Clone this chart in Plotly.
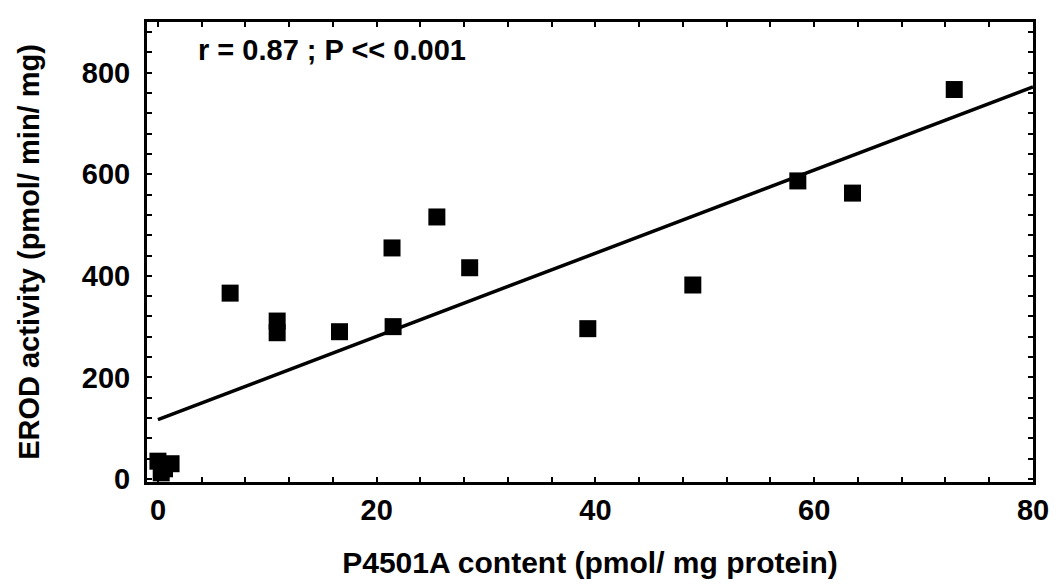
import plotly.graph_objects as go

# P4501A content (pmol/mg protein) vs EROD activity (pmol/min/mg)
p450_content = [0.0, 0.3, 1.2, 0.6, 6.6, 10.9, 10.9, 16.6, 21.4, 21.5,
                25.5, 28.5, 39.3, 48.9, 58.5, 63.5, 72.8]
erod_activity = [35, 12, 30, 20, 366, 311, 288, 290, 455, 300,
                 516, 416, 296, 382, 587, 563, 767]

# Linear regression line (intercept, slope) and its x extent
fit_intercept = 117
fit_slope = 8.19
fit_x = [0, 80]

stats_label = "r = 0.87 ; P << 0.001"
x_title = "P4501A content (pmol/ mg protein)"
y_title = "EROD activity (pmol/ min/ mg)"

FONT = "Liberation Sans, Arial, sans-serif"

fig = go.Figure()

fig.add_trace(go.Scatter(
    x=fit_x,
    y=[fit_intercept + fit_slope * v for v in fit_x],
    mode="lines",
    line=dict(color="black", width=3.5),
    hoverinfo="skip",
    showlegend=False,
))

fig.add_trace(go.Scatter(
    x=p450_content,
    y=erod_activity,
    mode="markers",
    marker=dict(symbol="square", size=17, color="black",
                line=dict(width=0)),
    showlegend=False,
))

fig.add_annotation(
    x=0.055, y=0.978, xref="paper", yref="paper",
    xanchor="left", yanchor="top",
    text="<b>" + stats_label + "</b>",
    showarrow=False,
    font=dict(family=FONT, size=29, color="black"),
)

axis_common = dict(
    showgrid=False,
    zeroline=False,
    showline=True,
    linecolor="black",
    linewidth=3,
    mirror="ticks",
    ticks="inside",
    ticklen=5,
    tickwidth=2,
    tickcolor="black",
    tickfont=dict(family=FONT, size=29, color="black", weight="bold"),
)

fig.update_xaxes(
    **axis_common,
    range=[-1, 80],
    tick0=0, dtick=20,
    minor=dict(ticks="inside", ticklen=5, tickwidth=2, tickcolor="black", dtick=4),
    title=dict(text=x_title, standoff=28,
               font=dict(family=FONT, size=30, color="black", weight="bold")),
)

fig.update_yaxes(
    **axis_common,
    range=[-6, 900],
    tick0=0, dtick=200,
    minor=dict(ticks="inside", ticklen=5, tickwidth=2, tickcolor="black", dtick=40),
    ticklabelstandoff=8,
    title=dict(text=y_title, standoff=34,
               font=dict(family=FONT, size=29, color="black", weight="bold")),
)

fig.update_layout(
    width=1060,
    height=588,
    margin=dict(l=147, r=27, t=22, b=106),
    paper_bgcolor="white",
    plot_bgcolor="white",
)

fig.write_html("out.html")
